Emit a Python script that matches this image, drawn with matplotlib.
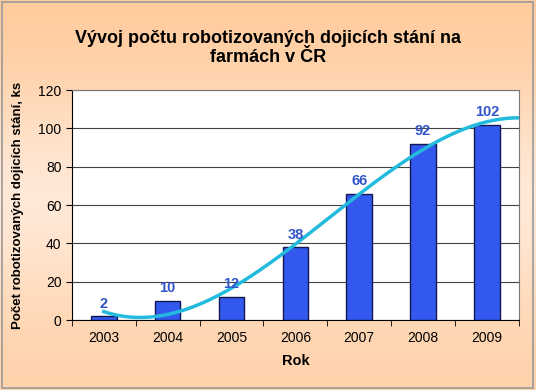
import matplotlib.pyplot as plt
import numpy as np

plt.rcParams['font.family'] = ['Liberation Sans', 'DejaVu Sans']

roky = ['2003', '2004', '2005', '2006', '2007', '2008', '2009']
pocty = [2, 10, 12, 38, 66, 92, 102]

fig = plt.figure(figsize=(5.36, 3.90), dpi=100)

# pozadi - prechod barev
bg = fig.add_axes([0, 0, 1, 1], zorder=-1)
grad = np.array([0.0, 0.5, 1.0, 0.6, 0.2])[:, None]
bg.imshow(np.dstack([np.full((5, 1), 1.0),
                     0.80 + 0.13 * grad,
                     0.62 + 0.26 * grad]),
          aspect='auto', extent=[0, 1, 0, 1], interpolation='bicubic')
bg.set_xlim(0, 1)
bg.set_ylim(0, 1)
bg.axis('off')
fig.patches.append(plt.Rectangle((0.004, 0.005), 0.99, 0.99, transform=fig.transFigure,
                                 fill=False, edgecolor='#999999', lw=1.2))

ax = fig.add_axes([0.134, 0.179, 0.834, 0.59])
ax.set_facecolor('white')
x = np.arange(len(roky))
ax.bar(x, pocty, width=0.4, color='#3358ee', edgecolor='#101850', linewidth=1, zorder=3)
for xi, v in zip(x, pocty):
    ax.text(xi, v + 3, str(v), ha='center', va='bottom', color='#3355cc',
            fontsize=10.5, fontweight='bold', zorder=5)

# polynomicky trend 3. radu
koef = np.polyfit(x, pocty, 3)
xt = np.linspace(0, len(roky) - 0.5, 200)
ax.plot(xt, np.polyval(koef, xt), color='#22bbdd', lw=2.5, zorder=4)

ax.set_xlim(-0.5, len(roky) - 0.5)
ax.set_ylim(0, 120)
ax.set_yticks(range(0, 121, 20))
ax.set_xticks(x)
ax.set_xticklabels(roky)
ax.set_xticks(np.arange(-0.5, len(roky), 1), minor=True)
ax.tick_params(axis='x', which='major', length=0, pad=8)
ax.tick_params(axis='x', which='minor', length=4, direction='out')
ax.tick_params(axis='y', length=4, direction='out')
ax.tick_params(labelsize=10)
ax.grid(axis='y', color='#444444', lw=0.8, zorder=0)
for s in ax.spines.values():
    s.set_color('#777777')
ax.spines['left'].set_color('black')
ax.spines['bottom'].set_color('black')

ax.set_xlabel('Rok', fontsize=10.5, fontweight='bold', labelpad=6)
ax.set_ylabel('Počet robotizovaných dojicích stání, ks', fontsize=9.5, fontweight='bold', labelpad=10)
fig.text(0.5, 0.877, 'Vývoj počtu robotizovaných dojicích stání na\nfarmách v ČR',
         ha='center', va='center', fontsize=13, fontweight='bold', linespacing=1.15)

fig.savefig('out.png', dpi=100)
